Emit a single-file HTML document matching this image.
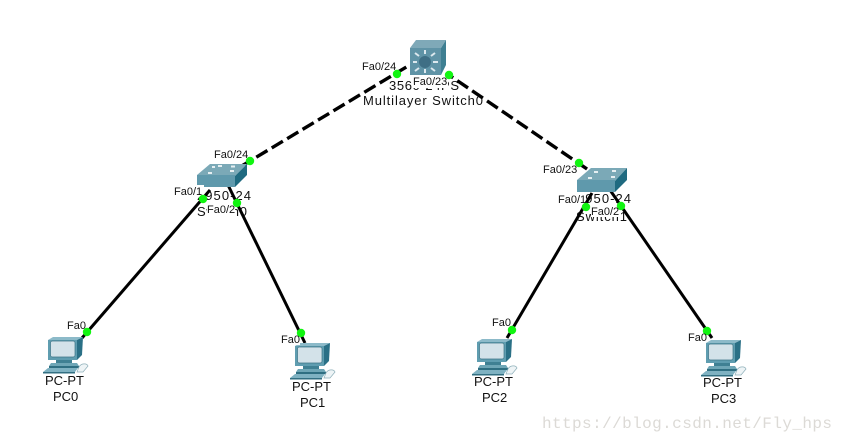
<!DOCTYPE html>
<html>
<head>
<meta charset="utf-8">
<style>
html,body{margin:0;padding:0;background:#fff;}
svg{display:block;}
text{font-family:"Liberation Sans",sans-serif;fill:#111;}
.p{font-size:11px;}
.n{font-size:13px;}
</style>
</head>
<body>
<svg width="843" height="442" viewBox="0 0 843 442" xmlns="http://www.w3.org/2000/svg">
<defs>
<g id="pc">
  <polygon points="4,4 9,1 39,1 33,4" fill="#8cbac9"/>
  <polygon points="33,4 39,1 38,19 33,24" fill="#2a7086"/>
  <rect x="4" y="4" width="29" height="20" fill="#5f9db0"/>
  <rect x="6.500" y="5" width="24.500" height="16" rx="2" fill="#d3e2e9" stroke="#3d7486" stroke-width=".7"/>
  <rect x="12" y="24" width="16" height="3" fill="#3f8093"/>
  <polygon points="7,27 33,27 35,30 5,30" fill="#6ea6b6"/>
  <polygon points="5,30 35,30 35,32 5,32" fill="#2f6f82"/>
  <polygon points="4,32 34,32 31,36 -1,36" fill="#7fb2c2"/>
  <polygon points="-1,36 31,36 31,37.500 -1,37.500" fill="#326f82"/>
  <path d="M35 31 C37 27 43 27 44 30 L39 36 L33 36Z" fill="#eef4f6" stroke="#8fb0ba" stroke-width=".7"/>
</g>
</defs>
<rect width="843" height="442" fill="#fff"/>

<!-- device name labels -->
<text class="n" x="389" y="90" textLength="70">3560-24PS</text>
<text class="n" x="363" y="105" textLength="120">Multilayer Switch0</text>
<text class="n" x="197" y="200" textLength="54">2950-24</text>
<text class="n" x="197" y="216" textLength="50">Switch0</text>
<text class="n" x="577" y="203" textLength="54">2950-24</text>
<text class="n" x="576" y="221" textLength="51">Switch1</text>

<!-- links -->
<g stroke="#000" fill="none">
  <line x1="408" y1="66" x2="240" y2="167" stroke-width="3.400" stroke-dasharray="13 5" stroke-dashoffset="-2"/>
  <line x1="449" y1="75" x2="590" y2="171" stroke-width="3.400" stroke-dasharray="13 5" stroke-dashoffset="-10"/>
  <g stroke-width="3">
  <line x1="210" y1="190" x2="82" y2="338"/>
  <line x1="228" y1="185" x2="305" y2="343"/>
  <line x1="592" y1="193" x2="507" y2="338"/>
  <line x1="610" y1="190" x2="712" y2="338"/>
  </g>
</g>

<!-- multilayer switch -->
<polygon points="410,48 416,40 446,40 441,48" fill="#7fa9b8"/>
<polygon points="441,48 446,40 446,65 441,75" fill="#3e7f92"/>
<rect x="410" y="48" width="31" height="27" fill="#5f93a6"/>
<g stroke="#dce8ee" stroke-width="2">
  <line x1="425" y1="50" x2="425" y2="54"/><line x1="425" y1="69" x2="425" y2="73"/>
  <line x1="413" y1="62" x2="417" y2="62"/><line x1="433" y1="62" x2="438" y2="62"/>
  <line x1="415" y1="53" x2="419" y2="56"/><line x1="435" y1="53" x2="431" y2="56"/>
  <line x1="415" y1="71" x2="419" y2="68"/><line x1="435" y1="71" x2="431" y2="68"/>
</g>
<circle cx="425" cy="62" r="6" fill="#3f6f85"/>

<!-- switch0 -->
<polygon points="197,175 210,164 247,164 235,176" fill="#7ba9b7"/>
<rect x="197" y="175" width="38" height="12" fill="#5f99ac"/>
<polygon points="235,176 247,164 247,175 235,187" fill="#1f6a80"/>
<g fill="#e6eff2"><rect x="208" y="172" width="4" height="2"/><rect x="218" y="165" width="4" height="2"/><rect x="231" y="165.500" width="4" height="2"/><rect x="212" y="166" width="3" height="2"/><rect x="230" y="170" width="4" height="2"/></g>

<!-- switch1 -->
<polygon points="577,180 591,168 627,168 615,181" fill="#7ba9b7"/>
<rect x="577" y="180" width="38" height="12" fill="#5f99ac"/>
<polygon points="615,181 627,168 627,180 615,192" fill="#1f6a80"/>
<g fill="#e6eff2"><rect x="588" y="177" width="4" height="2"/><rect x="594" y="171" width="4" height="2"/><rect x="611" y="176" width="4" height="2"/><rect x="612" y="170" width="4" height="2"/></g>

<!-- PCs -->
<use href="#pc" x="44" y="336"/>
<use href="#pc" x="291" y="342"/>
<use href="#pc" x="473" y="338"/>
<use href="#pc" x="702" y="339"/>

<!-- port label backgrounds -->
<g fill="#fff">
  <rect x="412" y="76" width="36" height="12"/>
  <rect x="173" y="185" width="31" height="12"/>
  <rect x="207" y="204" width="28" height="12"/>
  <rect x="558" y="193" width="27" height="12"/>
  <rect x="591" y="205" width="28" height="12"/>
  <rect x="281" y="333" width="19" height="12"/>
</g>

<!-- green link lights -->
<g fill="#11f511">
  <circle cx="397" cy="74" r="4.200"/>
  <circle cx="449" cy="75" r="4.200"/>
  <circle cx="250" cy="161" r="4.200"/>
  <circle cx="579" cy="163" r="4.200"/>
  <circle cx="203" cy="199" r="4.200"/>
  <circle cx="237" cy="203" r="4.200"/>
  <circle cx="586" cy="207" r="4.200"/>
  <circle cx="621" cy="206" r="4.200"/>
  <circle cx="87" cy="332" r="4.200"/>
  <circle cx="301" cy="333" r="4.200"/>
  <circle cx="512" cy="330" r="4.200"/>
  <circle cx="707" cy="331" r="4.200"/>
</g>

<!-- port labels -->
<text class="p" x="362" y="70">Fa0/24</text>
<text class="p" x="413" y="85">Fa0/23</text>
<text class="p" x="214" y="158">Fa0/24</text>
<text class="p" x="174" y="195">Fa0/1</text>
<text class="p" x="207" y="213">Fa0/2</text>
<text class="p" x="543" y="173">Fa0/23</text>
<text class="p" x="558" y="203">Fa0/1</text>
<text class="p" x="591" y="215">Fa0/2</text>
<text class="p" x="67" y="329">Fa0</text>
<text class="p" x="281" y="343">Fa0</text>
<text class="p" x="492" y="326">Fa0</text>
<text class="p" x="688" y="341">Fa0</text>

<!-- PC labels -->
<text class="n" x="45" y="385">PC-PT</text>
<text class="n" x="53" y="401">PC0</text>
<text class="n" x="292" y="391">PC-PT</text>
<text class="n" x="300" y="407">PC1</text>
<text class="n" x="474" y="386">PC-PT</text>
<text class="n" x="482" y="402">PC2</text>
<text class="n" x="703" y="387">PC-PT</text>
<text class="n" x="711" y="403">PC3</text>

<!-- watermark -->
<text x="542" y="428" textLength="290" style="font-family:'Liberation Mono',monospace;font-size:16px;fill:#dcdad6;">https://blog.csdn.net/Fly_hps</text>
</svg>
</body>
</html>
